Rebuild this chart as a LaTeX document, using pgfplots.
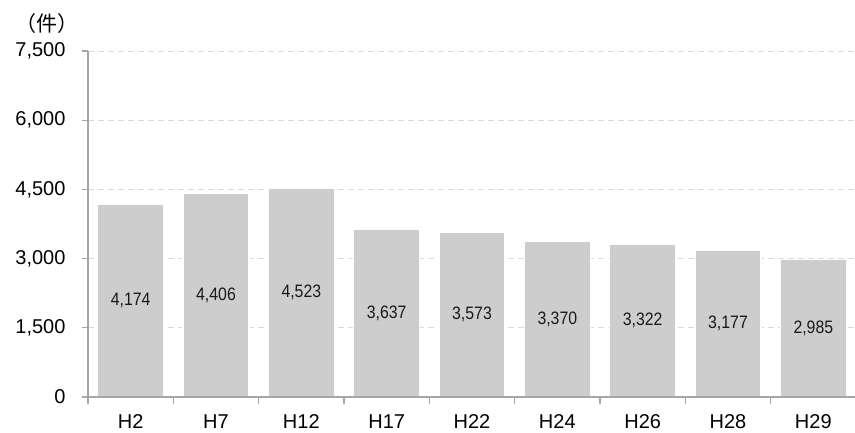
\documentclass[border=0pt]{standalone}
\usepackage{fontspec}
\setmainfont{Liberation Sans}
\newfontfamily\cjk{Noto Sans CJK JP}
\usepackage{pgfplots}
\pgfplotsset{compat=1.18}
\definecolor{barGray}{HTML}{CDCDCD}
\definecolor{axGray}{HTML}{A6A6A6}
\definecolor{gridGray}{HTML}{D9D9D9}

\begin{document}
\begin{tikzpicture}
\begin{axis}[
  at={(0pt,0pt)}, anchor=south west,
  scale only axis,
  width=768pt, height=346pt,
  ybar, bar width=66pt,
  xmin=-0.5, xmax=8.5,
  ymin=0, ymax=7500,
  ytick={0,1500,...,7500},
  xtick={0,...,8},
  xticklabels={H2,H7,H12,H17,H22,H24,H26,H28,H29},
  minor xtick={-0.5,0.5,...,8.5},
  axis lines*=left,
  axis line style={axGray, line width=1.2pt},
  tick align=outside,
  major tick length=6pt,
  minor tick length=7pt,
  every tick/.style={axGray, line width=1.2pt},
  major x tick style={draw=none},
  ymajorgrids,
  major grid style={gridGray, dashed, line width=1pt, dash pattern=on 6pt off 4pt},
  scaled y ticks=false,
  /pgf/number format/1000 sep={,},
  /pgf/number format/assume math mode=true,
  tick label style={font=\fontsize{20}{22}\selectfont, text=black},
  yticklabel style={xshift=-13pt},
  xticklabel style={yshift=-8pt},
  visualization depends on={y \as \rawy},
  nodes near coords,
  every node near coord/.append style={anchor=center,
    font=\fontsize{18}{20}\selectfont, text=black!90,
    xscale=0.88, transform shape,
    shift={(axis direction cs:0,-\rawy/2)}},
]
\addplot[fill=barGray, draw=white, line width=1.5pt]
  coordinates {(0,4174)(1,4406)(2,4523)(3,3637)(4,3573)
               (5,3370)(6,3322)(7,3177)(8,2985)};
\draw[axGray, line width=1.2pt] (rel axis cs:0,0) -- (rel axis cs:1,0);
\end{axis}
\node[font=\cjk\fontsize{21}{23}\selectfont] at (-41pt,373pt) {（件）};
\pgfresetboundingbox
\path (-88pt,-35pt) rectangle (767pt,397pt);
\end{tikzpicture}
\end{document}
